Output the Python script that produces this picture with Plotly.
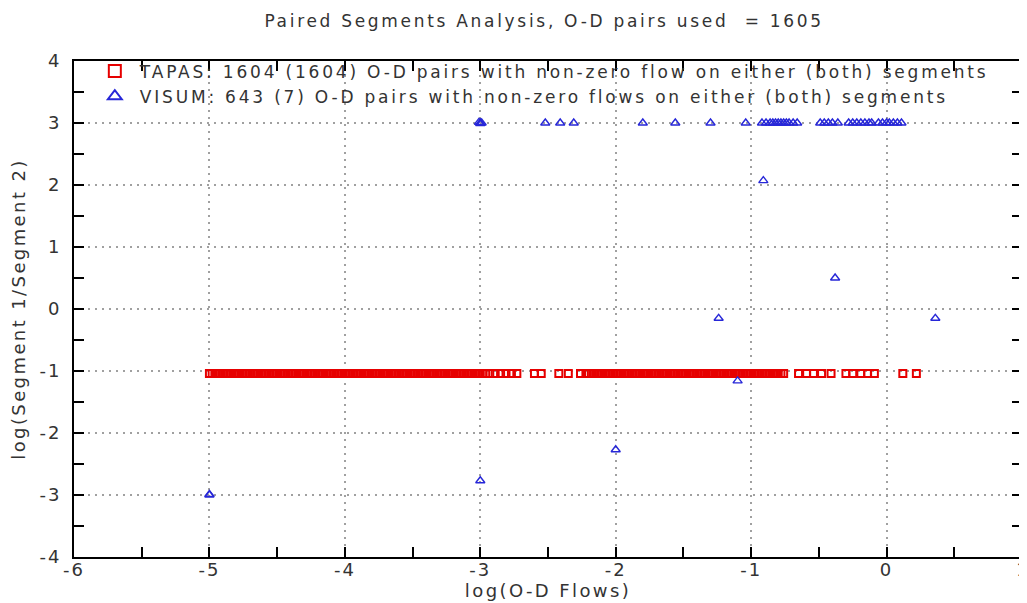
import plotly.graph_objects as go

# TAPAS: all pairs sit on one ratio level, flows spread from 1e-5 to ~1.5
tapas_x = [
    -5.00, -4.98, -4.96, -4.94, -4.92, -4.90, -4.88, -4.86, -4.84, -4.82,
    -4.80, -4.78, -4.76, -4.74, -4.72, -4.70, -4.68, -4.66, -4.64, -4.62,
    -4.60, -4.58, -4.56, -4.54, -4.52, -4.50, -4.48, -4.46, -4.44, -4.42,
    -4.40, -4.38, -4.36, -4.34, -4.32, -4.30, -4.28, -4.26, -4.24, -4.22,
    -4.20, -4.18, -4.16, -4.14, -4.12, -4.10, -4.08, -4.06, -4.04, -4.02,
    -4.00, -3.98, -3.96, -3.94, -3.92, -3.90, -3.88, -3.86, -3.84, -3.82,
    -3.80, -3.78, -3.76, -3.74, -3.72, -3.70, -3.68, -3.66, -3.64, -3.62,
    -3.60, -3.58, -3.56, -3.54, -3.52, -3.50, -3.48, -3.46, -3.44, -3.42,
    -3.40, -3.38, -3.36, -3.34, -3.32, -3.30, -3.28, -3.26, -3.24, -3.22,
    -3.20, -3.18, -3.16, -3.14, -3.12, -3.10, -3.08, -3.06, -3.04, -3.02,
    -3.00, -2.98, -2.96,
    -2.93, -2.89, -2.85, -2.81, -2.77, -2.73,
    -2.60, -2.55, -2.42, -2.35, -2.26,
    -2.22, -2.20, -2.18, -2.16, -2.14, -2.12, -2.10, -2.08, -2.06, -2.04,
    -2.02, -2.00, -1.98, -1.96, -1.94, -1.92, -1.90, -1.88, -1.86, -1.84,
    -1.82, -1.80, -1.78, -1.76, -1.74, -1.72, -1.70, -1.68, -1.66, -1.64,
    -1.62, -1.60, -1.58, -1.56, -1.54, -1.52, -1.50, -1.48, -1.46, -1.44,
    -1.42, -1.40, -1.38, -1.36, -1.34, -1.32, -1.30, -1.28, -1.26, -1.24,
    -1.22, -1.20, -1.18, -1.16, -1.14, -1.12, -1.10, -1.08, -1.06, -1.04,
    -1.02, -1.00, -0.98, -0.96, -0.94, -0.92, -0.90, -0.88, -0.86, -0.84,
    -0.82, -0.80, -0.78, -0.76,
    -0.65, -0.59, -0.54, -0.48, -0.41,
    -0.30, -0.25, -0.19, -0.14, -0.09,
    0.12, 0.22,
]
tapas_y = [-1.04] * len(tapas_x)

# VISUM: most pairs capped at ratio 3, a few scattered points
visum_x = [
    -3.00, -3.00, -2.99, -3.01,
    -2.52, -2.41, -2.31, -1.80, -1.56, -1.30, -1.04,
    -0.92, -0.89, -0.86, -0.84, -0.82, -0.80, -0.78, -0.76, -0.74, -0.72, -0.69, -0.66,
    -0.49, -0.46, -0.43, -0.40, -0.36,
    -0.28, -0.25, -0.22, -0.19, -0.16, -0.13, -0.11,
    -0.06, -0.03, 0.00, 0.02, 0.05, 0.08, 0.11,
    -5.00, -5.00, -3.00, -2.00, -1.24, -1.10, -0.91, -0.38, 0.36,
]
visum_y = [
    3.00, 2.99, 3.00, 3.01,
    3.00, 3.00, 3.00, 3.00, 3.00, 3.00, 3.00,
    3.00, 3.00, 3.00, 3.00, 3.00, 3.00, 3.00, 3.00, 3.00, 3.00, 3.00, 3.00,
    3.00, 3.00, 3.00, 3.00, 3.00,
    3.00, 3.00, 3.00, 3.00, 3.00, 3.00, 3.00,
    3.00, 3.00, 3.00, 3.00, 3.00, 3.00, 3.00,
    -3.00, -2.99, -2.77, -2.27, -0.15, -1.16, 2.07, 0.50, -0.15,
]

x_ticks = [-6, -5, -4, -3, -2, -1, 0, 1]
x_tick_labels = ["-6", "-5", "-4", "-3", "-2", "-1", "0", "1"]
y_ticks = [-4, -3, -2, -1, 0, 1, 2, 3, 4]
y_tick_labels = ["-4", "-3", "-2", "-1", "0", "1", "2", "3", "4"]

tapas_name = "TAPAS: 1604 (1604) O-D pairs with non-zero flow on either (both) segments"
visum_name = "VISUM: 643 (7) O-D pairs with non-zero flows on either (both) segments"
title_text = "Paired Segments Analysis, O-D pairs used  = 1605"

font = "DejaVu Sans"
grey = "#333333"


def spaced(text, px):
    # widen the text a bit, the original renderer draws letters far apart
    return f'<span style="letter-spacing:{px}px">{text}</span>'


def tick_label(text):
    # last label sits on the page edge, keep it tight
    return text if text == "1" else spaced(text, 2)


fig = go.Figure()
fig.add_trace(go.Scatter(
    x=tapas_x, y=tapas_y, mode="markers", name=spaced(tapas_name, 2.8),
    marker=dict(symbol="square-open", size=7, color="#e60000", line=dict(width=2)),
))
fig.add_trace(go.Scatter(
    x=visum_x, y=visum_y, mode="markers", name=spaced(visum_name, 2.8),
    marker=dict(symbol="triangle-up-open", size=8, color="#2727d8", line=dict(width=1.4)),
))

axis_style = dict(
    showline=True, linecolor="black", linewidth=2, mirror="ticks",
    ticks="inside", ticklen=10, tickwidth=2, tickcolor="black",
    showgrid=True, gridcolor="#a0a0a0", griddash="2px,5px", gridwidth=2,
    zeroline=False, tickfont=dict(family=font, size=18, color=grey),
    minor=dict(ticks="inside", ticklen=10, tickwidth=2, tickcolor="black",
               tickmode="linear", tick0=0, dtick=0.5, showgrid=False),
    tickmode="array", ticklabeloverflow="allow",
)

fig.update_xaxes(range=[-6, 1], tickvals=x_ticks, ticktext=[tick_label(t) for t in x_tick_labels],
                 ticklabelstandoff=-5, **axis_style,
                 title=dict(text=spaced("log(O-D Flows)", 2.4), font=dict(family=font, size=18, color=grey), standoff=0))
fig.update_yaxes(range=[-4, 4], tickvals=y_ticks, ticktext=[spaced(t, 2) for t in y_tick_labels],
                 ticklabelstandoff=7, **axis_style,
                 title=dict(text=spaced("log(Segment 1/Segment 2)", 2.4), font=dict(family=font, size=18, color=grey), standoff=9))

fig.update_layout(
    width=1027, height=603,
    margin=dict(l=66, r=7, t=53, b=54),
    plot_bgcolor="white", paper_bgcolor="white",
    title=dict(text=spaced(title_text, 2.7),
               font=dict(family=font, size=17, color=grey),
               x=0.522, xanchor="center", y=0.978, yanchor="middle"),
    legend=dict(x=0.0167, y=1.015, xanchor="left", yanchor="top", itemwidth=40,
                bgcolor="rgba(0,0,0,0)", font=dict(family=font, size=17, color=grey),
                tracegroupgap=0, itemsizing="constant"),
    showlegend=True,
)

fig.write_html("out.html")
